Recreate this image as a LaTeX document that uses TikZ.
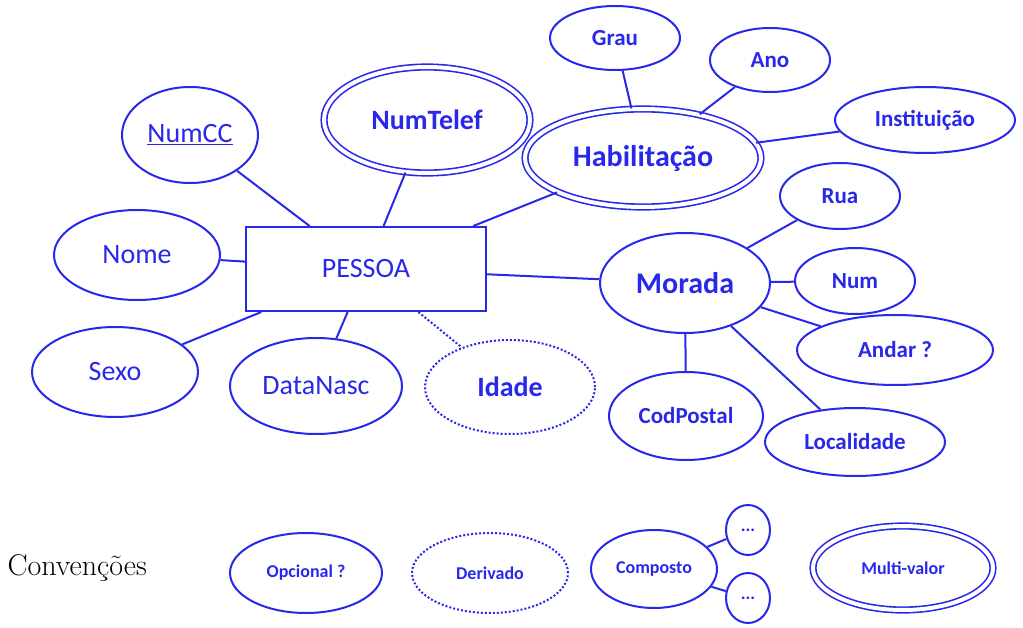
\documentclass[tikz,border=0pt]{standalone}
\usepackage{fontspec}
\setmainfont{Carlito}
\newfontfamily\conv{Latin Modern Mono}
\usetikzlibrary{shapes.geometric}
\definecolor{eb}{RGB}{40,40,235}
\tikzset{
 el/.style={ellipse,draw=eb,line width=2pt,text=eb,inner sep=0pt},
 dbl/.style={double=white,double distance=4pt,line width=1.6pt},
 dot/.style={dotted,line width=2pt},
 ln/.style={draw=eb,line width=2pt},
 bf/.style={font=\bfseries\fontsize{23}{25}\selectfont},
 nf/.style={font=\fontsize{28}{30}\selectfont},
 sf/.style={font=\bfseries\fontsize{18}{20}\selectfont},
}
\newcommand{\E}[6]{\node[el,minimum width=#3pt,minimum height=#4pt,#5] (#1) at #2 {#6};}
\begin{document}
\begin{tikzpicture}[x=1pt,y=-1pt]
\useasboundingbox (0,0) rectangle (1023,628);
\node[draw=eb,line width=2pt,text=eb,minimum width=240pt,minimum height=84pt,nf] (P) at (366,269) {PESSOA};
\E{numcc}{(190,135)}{136}{96}{nf}{\underline{NumCC}}
\E{nome}{(137,255)}{166}{90}{nf}{Nome}
\E{sexo}{(115,372)}{166}{90}{nf}{Sexo}
\E{data}{(316,386)}{172}{96}{nf}{DataNasc}
\E{idade}{(510,387)}{170}{94}{dot,font=\bfseries\fontsize{28}{30}\selectfont}{Idade}
\E{tel}{(427,120)}{206}{106}{dbl,font=\bfseries\fontsize{28}{30}\selectfont}{NumTelef}
\E{hab}{(643,158)}{236}{98}{dbl,font=\bfseries\fontsize{30}{32}\selectfont}{Habilitação}
\E{grau}{(615,38)}{130}{64}{bf}{Grau}
\E{ano}{(770,60)}{120}{64}{bf}{Ano}
\E{inst}{(925,120)}{180}{66}{bf}{Instituição}
\E{mor}{(685,283)}{170}{100}{font=\bfseries\fontsize{30}{32}\selectfont}{Morada}
\E{rua}{(840,196)}{120}{66}{bf}{Rua}
\E{num}{(855,281)}{120}{66}{bf}{Num}
\E{andar}{(895,350)}{196}{70}{bf}{Andar ?}
\E{cp}{(686,416)}{154}{88}{bf}{CodPostal}
\E{loc}{(855,442)}{180}{68}{bf}{Localidade}
\foreach \a in {numcc,nome,sexo,data,tel,hab,mor} \draw[ln] (P) -- (\a);
\draw[ln,dot] (P) -- (idade);
\foreach \a in {grau,ano,inst} \draw[ln] (hab) -- (\a);
\foreach \a in {rua,num,andar,cp,loc} \draw[ln] (mor) -- (\a);
\node[font=\rmfamily\fontsize{30}{32}\selectfont,anchor=west] (cv) at (4,568) {\setmainfont{Latin Modern Roman}Convenções};
\E{op}{(306,573)}{152}{80}{sf}{Opcional ?}
\E{der}{(490,573)}{156}{80}{dot,sf}{Derivado}
\E{comp}{(654,569)}{126}{78}{sf}{Composto}
\E{d1}{(748,530)}{44}{50}{sf}{...}
\E{d2}{(748,598)}{44}{50}{sf}{...}
\E{mv}{(903,568)}{180}{84}{dbl,sf}{Multi-valor}
\draw[ln] (comp) -- (d1); \draw[ln] (comp) -- (d2);
\end{tikzpicture}
\end{document}
